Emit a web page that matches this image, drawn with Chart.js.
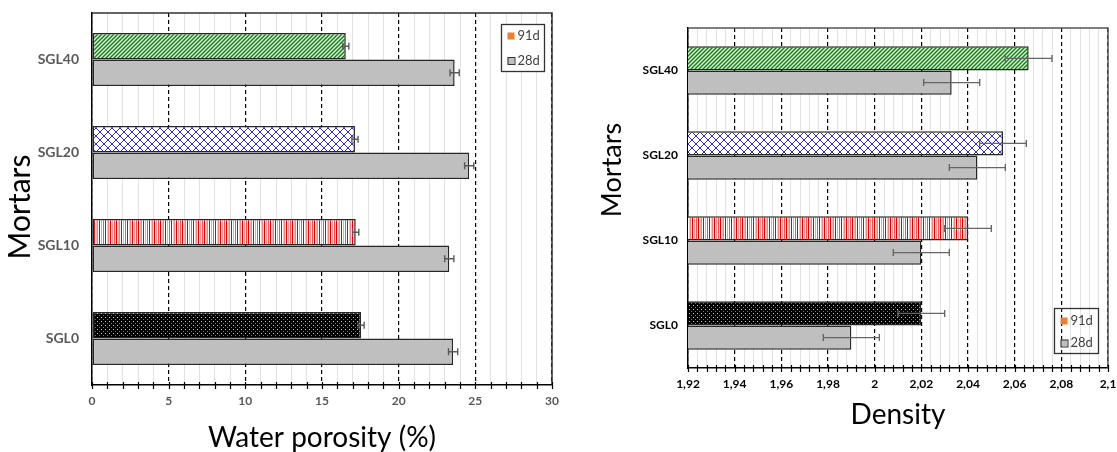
<!DOCTYPE html>
<html>
<head>
<meta charset="utf-8">
<script src="https://cdn.jsdelivr.net/npm/chart.js@4.4.1/dist/chart.umd.min.js"></script>
<style>
  body { margin: 0; background: #fff; }
  #wrap { position: relative; width: 1117px; height: 452px; }
  #porosityChart { position: absolute; left: 0; top: 0; }
  #densityChart { position: absolute; left: 560px; top: 0; }
</style>
</head>
<body>
<div id="wrap">
  <canvas id="porosityChart" width="560" height="452"></canvas>
  <canvas id="densityChart" width="557" height="452"></canvas>
</div>
<script>
// Mortars, listed top to bottom like in the figure
const mortars = ["SGL40", "SGL20", "SGL10", "SGL0"];
const seriesNames = ["91d", "28d"];

// Water porosity (%) with error (+/-)
const porosity91d = [16.55, 17.15, 17.2, 17.55];
const porosity91dErr = [0.2, 0.2, 0.2, 0.2];
const porosity28d = [23.65, 24.6, 23.3, 23.55];
const porosity28dErr = [0.3, 0.3, 0.3, 0.3];
const porosityTicks = [0, 5, 10, 15, 20, 25, 30];

// Density with error (+/-)
const density91d = [2.066, 2.055, 2.04, 2.02];
const density91dErr = [0.01, 0.01, 0.01, 0.01];
const density28d = [2.033, 2.044, 2.02, 1.99];
const density28dErr = [0.012, 0.012, 0.012, 0.012];
const densityTicks = [1.92, 1.94, 1.96, 1.98, 2.0, 2.02, 2.04, 2.06, 2.08, 2.1];

const FONT = "Lato, 'Open Sans', sans-serif";

// Small helper to build a repeating fill pattern
function makePattern(w, h, draw) {
  const c = document.createElement("canvas");
  c.width = w;
  c.height = h;
  const g = c.getContext("2d");
  draw(g);
  return g.createPattern(c, "repeat");
}

// Green diagonal hatch (SGL40)
const greenHatch = makePattern(4, 4, (g) => {
  g.fillStyle = "#dcefdc";
  g.fillRect(0, 0, 4, 4);
  g.strokeStyle = "#128012";
  g.lineWidth = 1.4;
  g.beginPath();
  g.moveTo(-1, 5); g.lineTo(5, -1);
  g.moveTo(-1, 1); g.lineTo(1, -1);
  g.moveTo(3, 5); g.lineTo(5, 3);
  g.stroke();
});
// Blue cross hatch (SGL20)
const blueCross = makePattern(8, 8, (g) => {
  g.fillStyle = "#ffffff";
  g.fillRect(0, 0, 8, 8);
  g.strokeStyle = "#2f2fd0";
  g.lineWidth = 1;
  g.beginPath();
  g.moveTo(0, 0); g.lineTo(8, 8);
  g.moveTo(8, 0); g.lineTo(0, 8);
  g.stroke();
});
// Red vertical stripes (SGL10)
const redStripes = makePattern(11, 2, (g) => {
  g.fillStyle = "#ffffff";
  g.fillRect(0, 0, 11, 2);
  const cols = [[0, "#e00000"], [2, "#f4a0a0"], [4, "#ff5050"], [6, "#e00000"], [8, "#f8c0c0"], [9, "#ff8080"]];
  cols.forEach(([x, c]) => { g.fillStyle = c; g.fillRect(x, 0, 1, 2); });
});
// Black with small white dots (SGL0)
const blackDots = makePattern(4, 4, (g) => {
  g.fillStyle = "#000000";
  g.fillRect(0, 0, 4, 4);
  g.fillStyle = "#d0d0d0";
  g.fillRect(1, 1, 1, 1);
  g.fillStyle = "#707070";
  g.fillRect(3, 3, 1, 1);
});
const patterns91d = [greenHatch, blueCross, redStripes, blackDots];
const gray28d = "#bfbfbf";

// Draw error bars on every bar using the x scale
const errorBarPlugin = {
  id: "errorBars",
  afterDatasetsDraw(chart, args, opts) {
    const ctx = chart.ctx;
    const xScale = chart.scales.x;
    chart.data.datasets.forEach((ds, i) => {
      const meta = chart.getDatasetMeta(i);
      meta.data.forEach((bar, j) => {
        const x1 = xScale.getPixelForValue(ds.data[j] - ds.errors[j]);
        const x2 = xScale.getPixelForValue(ds.data[j] + ds.errors[j]);
        const y = bar.y;
        ctx.save();
        ctx.strokeStyle = opts.color;
        ctx.lineWidth = 1.4;
        ctx.beginPath();
        ctx.moveTo(x1, y); ctx.lineTo(x2, y);
        ctx.moveTo(x1, y - 3.5); ctx.lineTo(x1, y + 3.5);
        ctx.moveTo(x2, y - 3.5); ctx.lineTo(x2, y + 3.5);
        ctx.stroke();
        ctx.restore();
      });
    });
  },
};

// Frame on top/right, tick marks crossing the x axis, rotated y title and legend box
const decorPlugin = {
  id: "decor",
  afterDraw(chart, args, opts) {
    const ctx = chart.ctx;
    const a = chart.chartArea;
    const xScale = chart.scales.x;
    ctx.save();
    // frame
    ctx.strokeStyle = opts.frameColor;
    ctx.lineWidth = 1.5;
    ctx.beginPath();
    ctx.moveTo(a.left, a.top); ctx.lineTo(a.right, a.top); ctx.lineTo(a.right, a.bottom);
    ctx.stroke();
    // tick marks
    ctx.strokeStyle = "#000";
    ctx.lineWidth = 1.2;
    ctx.beginPath();
    xScale.ticks.forEach((t) => {
      const x = Math.round(xScale.getPixelForValue(t.value)) + 0.5;
      ctx.moveTo(x, a.bottom - 3); ctx.lineTo(x, a.bottom + 4);
    });
    ctx.stroke();
    // y axis title
    ctx.translate(opts.yTitle.x, opts.yTitle.y);
    ctx.rotate(-Math.PI / 2);
    ctx.fillStyle = "#000";
    ctx.font = opts.yTitle.size + "px " + FONT;
    ctx.textAlign = "center";
    ctx.textBaseline = "middle";
    ctx.fillText(opts.yTitle.text, 0, 0);
    ctx.restore();
    // legend
    const L = opts.legend;
    ctx.save();
    if (L.fill) {
      ctx.fillStyle = "#fff";
      ctx.fillRect(L.x, L.y, L.w, L.h);
    }
    ctx.strokeStyle = "#333";
    ctx.lineWidth = 1.3;
    ctx.strokeRect(L.x, L.y, L.w, L.h);
    ctx.font = "13px " + FONT;
    ctx.textBaseline = "middle";
    chart.data.datasets.forEach((ds, i) => {
      const cy = L.y + L.rowTop + i * L.rowGap;
      ctx.fillStyle = ds.legendColor;
      ctx.fillRect(L.x + 6, cy - 3.5, 7, 7);
      if (i === 1) {
        ctx.strokeStyle = "#333";
        ctx.lineWidth = 1;
        ctx.strokeRect(L.x + 6.5, cy - 3, 7, 7);
      }
      ctx.fillStyle = "#404040";
      ctx.fillText(ds.label, L.x + 16, cy);
    });
    ctx.restore();
  },
};

// Majors from the tick list, 4 minor steps between them
function buildTicks(majors) {
  const ticks = [];
  for (let i = 0; i < majors.length; i++) {
    ticks.push({ value: majors[i], major: true });
    if (i < majors.length - 1) {
      const step = (majors[i + 1] - majors[i]) / 5;
      for (let k = 1; k < 5; k++) {
        ticks.push({ value: majors[i] + step * k, major: false });
      }
    }
  }
  return ticks;
}

function makeChart(canvasId, cfg) {
  return new Chart(canvasId, {
    type: "bar",
    data: {
      labels: mortars,
      datasets: [
        {
          label: seriesNames[0],
          data: cfg.d91,
          errors: cfg.e91,
          backgroundColor: patterns91d,
          legendColor: "#ed7d31",
          borderColor: "#262626",
          borderWidth: 1.5,
          borderSkipped: false,
          categoryPercentage: 0.57,
          barPercentage: 1.0,
        },
        {
          label: seriesNames[1],
          data: cfg.d28,
          errors: cfg.e28,
          backgroundColor: gray28d,
          legendColor: gray28d,
          borderColor: "#262626",
          borderWidth: 1.5,
          borderSkipped: false,
          categoryPercentage: 0.57,
          barPercentage: 1.0,
        },
      ],
    },
    options: {
      indexAxis: "y",
      responsive: false,
      animation: false,
      layout: { padding: cfg.padding },
      plugins: {
        legend: { display: false },
        tooltip: { enabled: false },
        errorBars: { color: cfg.errColor },
        decor: cfg.decor,
      },
      scales: {
        x: {
          type: "linear",
          min: cfg.ticks[0],
          max: cfg.ticks[cfg.ticks.length - 1],
          afterBuildTicks: (s) => { s.ticks = buildTicks(cfg.ticks); },
          afterFit: (s) => {
            s.height = cfg.xHeight;
            // let the last label run past the plot like in the figure
            s.paddingLeft = 0;
            s.paddingRight = 0;
          },
          ticks: {
            autoSkip: false,
            maxRotation: 0,
            padding: 9,
            color: cfg.tickColor,
            font: { family: FONT, size: 12, weight: "bold" },
            callback: (v, i, t) => (t[i].major ? cfg.fmt(v) : ""),
          },
          grid: {
            drawTicks: false,
            color: (c) => (c.tick && c.tick.major ? "#000" : "#e2e2e2"),
            lineWidth: (c) => (c.tick && c.tick.major ? 1.2 : 1),
          },
          border: {
            color: "#000",
            width: 1.5,
            dash: (c) => (c.tick && c.tick.major ? [4, 3] : []),
          },
          title: {
            display: true,
            text: cfg.xTitle,
            color: "#000",
            padding: 0,
            font: { family: FONT, size: 28, lineHeight: 1 },
          },
        },
        y: {
          type: "category",
          afterFit: (s) => {
            s.width = cfg.yWidth;
            s.paddingTop = 0;
            s.paddingBottom = 0;
          },
          grid: { display: false, drawTicks: false },
          border: { color: "#000", width: 1.5 },
          ticks: {
            padding: cfg.yPad,
            color: cfg.tickColor,
            font: { family: FONT, size: cfg.ySize, weight: "bold" },
          },
        },
      },
    },
    plugins: [errorBarPlugin, decorPlugin],
  });
}

// Left chart: water porosity
const chart1 = makeChart("porosityChart", {
  d91: porosity91d, e91: porosity91dErr,
  d28: porosity28d, e28: porosity28dErr,
  ticks: porosityTicks,
  fmt: (v) => String(v),
  padding: { left: 0, right: 8, top: 13, bottom: 0 },
  xHeight: 67,
  yWidth: 92,
  yPad: 13,
  ySize: 14,
  tickColor: "#595959",
  errColor: "#595959",
  xTitle: "Water porosity (%)",
  decor: {
    frameColor: "#333",
    yTitle: { text: "Mortars", x: 20, y: 207, size: 30 },
    legend: { x: 501.5, y: 24.5, w: 43, h: 47, rowTop: 11.5, rowGap: 24.5, fill: true },
  },
});

// Right chart: density
const chart2 = makeChart("densityChart", {
  d91: density91d, e91: density91dErr,
  d28: density28d, e28: density28dErr,
  ticks: densityTicks,
  fmt: (v) => String(Math.round(v * 100) / 100).replace(".", ","),
  padding: { left: 0, right: 9, top: 28, bottom: 23 },
  xHeight: 61,
  yWidth: 128,
  yPad: 10,
  ySize: 12,
  tickColor: "#000",
  errColor: "#666",
  xTitle: "Density",
  decor: {
    frameColor: "#555",
    yTitle: { text: "Mortars", x: 52, y: 170, size: 27 },
    legend: { x: 494.5, y: 308.5, w: 44, h: 45, rowTop: 12.5, rowGap: 22, fill: false },
  },
});
</script>
</body>
</html>
